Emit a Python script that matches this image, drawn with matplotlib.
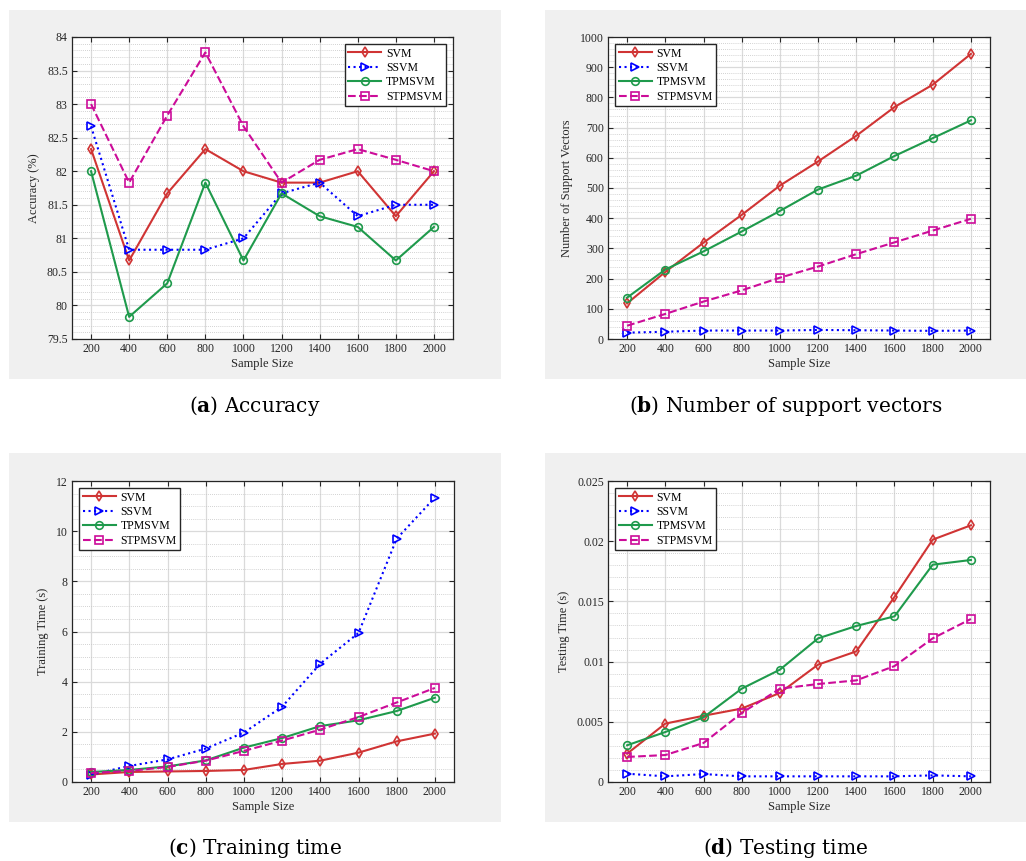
import matplotlib
matplotlib.use("Agg")
import matplotlib.pyplot as plt
from matplotlib.patches import Rectangle
from matplotlib.ticker import MultipleLocator, FormatStrFormatter

plt.rcParams["font.family"] = ["Liberation Serif", "DejaVu Serif"]
plt.rcParams["mathtext.fontset"] = "dejavuserif"

sizes = [200, 400, 600, 800, 1000, 1200, 1400, 1600, 1800, 2000]
methods = ["SVM", "SSVM", "TPMSVM", "STPMSVM"]

acc_svm = [82.33, 80.67, 81.67, 82.33, 82.0, 81.83, 81.83, 82.0, 81.33, 82.0]
acc_ssvm = [82.67, 80.83, 80.83, 80.83, 81.0, 81.67, 81.83, 81.33, 81.5, 81.5]
acc_tpmsvm = [82.0, 79.83, 80.33, 81.83, 80.67, 81.67, 81.33, 81.17, 80.67, 81.17]
acc_stpmsvm = [83.0, 81.83, 82.83, 83.77, 82.67, 81.83, 82.17, 82.33, 82.17, 82.0]

sv_svm = [118, 222, 319, 411, 508, 588, 673, 768, 842, 944]
sv_ssvm = [21, 24, 28, 28, 28, 30, 29, 28, 27, 28]
sv_tpmsvm = [137, 230, 290, 356, 424, 495, 541, 606, 665, 724]
sv_stpmsvm = [44, 83, 124, 161, 203, 240, 281, 320, 359, 398]

train_svm = [0.30, 0.40, 0.42, 0.44, 0.48, 0.72, 0.85, 1.17, 1.62, 1.93]
train_ssvm = [0.29, 0.64, 0.90, 1.33, 1.97, 3.00, 4.72, 5.94, 9.70, 11.34]
train_tpmsvm = [0.40, 0.48, 0.62, 0.86, 1.37, 1.75, 2.23, 2.46, 2.83, 3.36]
train_stpmsvm = [0.36, 0.44, 0.60, 0.85, 1.24, 1.65, 2.09, 2.59, 3.17, 3.75]

test_svm = [0.00235, 0.00485, 0.0055, 0.0061, 0.0074, 0.00975, 0.01085, 0.01537, 0.02013, 0.02132]
test_ssvm = [0.00069, 0.00047, 0.00066, 0.00047, 0.00047, 0.00047, 0.00047, 0.00047, 0.00055, 0.00047]
test_tpmsvm = [0.00305, 0.00415, 0.00537, 0.00775, 0.00933, 0.01193, 0.01296, 0.01376, 0.01805, 0.01844]
test_stpmsvm = [0.00208, 0.00224, 0.00324, 0.00573, 0.00775, 0.00814, 0.00844, 0.00963, 0.01193, 0.01354]

styles = [
    dict(color="#d03434", ls="-", marker="d"),
    dict(color="#0000ff", ls=":", marker=">"),
    dict(color="#1f9a4c", ls="-", marker="o"),
    dict(color="#cc0c99", ls="--", marker="s"),
]

W, H = 1026, 861
fig = plt.figure(figsize=(W / 100, H / 100), dpi=100)
fig.patch.set_facecolor("white")


def px_box(x0, y0, x1, y1):
    return [x0 / W, 1 - y1 / H, (x1 - x0) / W, (y1 - y0) / H]


# grey backdrops behind each panel
for x0, y0, x1, y1 in [(9, 10, 501, 379), (545, 10, 1026, 379),
                       (9, 453, 501, 822), (545, 453, 1026, 822)]:
    b = px_box(x0, y0, x1, y1)
    fig.add_artist(Rectangle((b[0], b[1]), b[2], b[3], transform=fig.transFigure,
                             facecolor="#f0f0f0", edgecolor="none", zorder=0))

panels = [
    (px_box(72, 37, 453, 339), [acc_svm, acc_ssvm, acc_tpmsvm, acc_stpmsvm],
     "Accuracy (%)", (79.5, 84), 0.5, 0.1, "upper right"),
    (px_box(608, 37, 990, 339), [sv_svm, sv_ssvm, sv_tpmsvm, sv_stpmsvm],
     "Number of Support Vectors", (0, 1000), 100, 20, "upper left"),
    (px_box(72, 481, 454, 782), [train_svm, train_ssvm, train_tpmsvm, train_stpmsvm],
     "Training Time (s)", (0, 12), 2, 0.5, "upper left"),
    (px_box(608, 481, 990, 782), [test_svm, test_ssvm, test_tpmsvm, test_stpmsvm],
     "Testing Time (s)", (0, 0.025), 0.005, 0.001, "upper left"),
]

for box, series, ylabel, ylim, major, minor, loc in panels:
    ax = fig.add_axes(box)
    ax.set_zorder(2)
    for name, vals, st in zip(methods, series, styles):
        ax.plot(sizes, vals, color=st["color"], ls=st["ls"], lw=1.5,
                marker=st["marker"], ms=5.5, mfc="none", mew=1.2, label=name)
    ax.set_xlim(100, 2100)
    ax.set_ylim(*ylim)
    ax.set_xticks(sizes)
    ax.yaxis.set_major_locator(MultipleLocator(major))
    ax.yaxis.set_minor_locator(MultipleLocator(minor))
    ax.yaxis.set_major_formatter(FormatStrFormatter("%g"))
    ax.tick_params(which="major", direction="in", length=3.5, width=0.8,
                   top=True, right=True, labelsize=8.5, colors="#262626", pad=3)
    ax.tick_params(which="minor", length=0)
    ax.grid(True, which="major", color="#dadada", lw=0.9, ls="-")
    ax.grid(True, which="minor", axis="y", color="#c4c4c4", lw=0.6, ls=(0, (1, 1.5)))
    ax.set_axisbelow(True)
    for sp in ax.spines.values():
        sp.set_color("#262626")
        sp.set_linewidth(0.9)
    ax.set_xlabel("Sample Size", fontsize=9, color="#262626", labelpad=2)
    ax.set_ylabel(ylabel, fontsize=9, color="#262626", labelpad=5)
    leg = ax.legend(loc=loc, fontsize=8.5, fancybox=False, framealpha=1,
                    edgecolor="#262626", handlelength=2.8, handletextpad=0.4,
                    borderpad=0.3, labelspacing=0.2, borderaxespad=0.6)
    leg.get_frame().set_linewidth(1.0)

# captions under each panel
cap = dict(ha="center", va="center", fontsize=14.5, family="DejaVu Serif")
fig.text(255 / W, 1 - 406 / H, r"($\mathbf{a}$) Accuracy", **cap)
fig.text(786 / W, 1 - 406 / H, r"($\mathbf{b}$) Number of support vectors", **cap)
fig.text(255 / W, 1 - 848 / H, r"($\mathbf{c}$) Training time", **cap)
fig.text(786 / W, 1 - 848 / H, r"($\mathbf{d}$) Testing time", **cap)

fig.savefig("out.png", dpi=100)
